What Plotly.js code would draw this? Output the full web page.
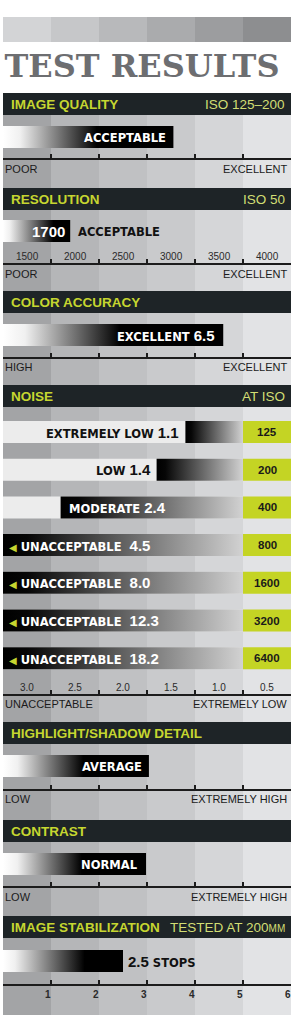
<!DOCTYPE html>
<html><head><meta charset="utf-8">
<script src="https://cdn.plot.ly/plotly-3.0.1.min.js"></script>
<style>html,body{margin:0;padding:0;background:#fff}</style>
</head><body><div id="chart" style="width:292px;height:1024px"></div>
<script>
// ---------------- data ----------------
const chartTitle = "TEST RESULTS";
const sectionTitles = ["IMAGE QUALITY","RESOLUTION","COLOR ACCURACY","NOISE","HIGHLIGHT/SHADOW DETAIL","CONTRAST","IMAGE STABILIZATION"];
const sectionNotes = ["ISO 125–200","ISO 50","","AT ISO","","","TESTED AT 200<span style=\"font-size:10px\">MM</span>"];

const qualityScore = 3.55;            // position on a 0–6 rating scale
const qualityRating = "ACCEPTABLE";
const qualityScale = ["POOR","EXCELLENT"];

const resolutionValue = 1700;
const resolutionRating = "ACCEPTABLE";
const resolutionTicks = [1500,2000,2500,3000,3500,4000];
const resolutionScale = ["POOR","EXCELLENT"];

const colorValue = 6.5;
const colorRating = "EXCELLENT";
const colorScale = ["HIGH","EXCELLENT"];

const noiseIso = ["125","200","400","800","1600","3200","6400"];
const noiseValues = [1.1,1.4,2.4,4.5,8.0,12.3,18.2];
const noiseRatings = ["EXTREMELY LOW","LOW","MODERATE","UNACCEPTABLE","UNACCEPTABLE","UNACCEPTABLE","UNACCEPTABLE"];
const noiseTicks = [3.0,2.5,2.0,1.5,1.0,0.5];
const noiseScale = ["UNACCEPTABLE","EXTREMELY LOW"];

const highlightScore = 3.04;
const highlightRating = "AVERAGE";
const highlightScale = ["LOW","EXTREMELY HIGH"];

const contrastScore = 2.98;
const contrastRating = "NORMAL";
const contrastScale = ["LOW","EXTREMELY HIGH"];

const stabilizationStops = 2.5;
const stabilizationUnit = "STOPS";
const stabilizationTicks = [1,2,3,4,5,6];

// ---------------- style / layout constants ----------------
const W=292, H=1024, PX0=3, PX1=291;
const dom=[PX0/W, PX1/W];
const P = y => 1 - y/H;
const GREEN='#c6d630', GREEN_LIGHT='#d2de74', DARK='#1e2427', BOX='#c4d424';
const FN="DejaVu Sans Condensed, sans-serif";
const FS="Liberation Sans, Arial, sans-serif";
const FSLAB="DejaVu Serif, serif";
const swatch=['#d3d4d6','#c6c7c9','#b8b9bb','#aaabad','#9c9d9f','#8d8e90'];
const cols=['#a3a4a6','#b5b6b8','#c0c1c3','#c9cacc','#d5d6d8','#e2e3e5'];

const headerTop=[93,188,291,385,722,820,916], headerH=22, barH=22;
const axisY=[158,263,357,694,789,886,984];
const scaleLabelY=[169,274,367,704,799,897];
const barTop={quality:126,resolution:220,color:324,highlight:755,contrast:853,stab:950};
const tickLabelY={resolution:256,noise:687,stab:994};
const noiseTop0=421, noiseStep=37.7;
const bgTop=93, bgBottom=1015;
const axisRanges=[[0,6],[1000,4000],[0,8.5],[3,0],[0,6],[0,6],[0,6]];

const num = t => `<span style="font-family:Liberation Sans;font-size:15px">${t}</span>`;

// ---------------- layout ----------------
const layout={
  width:W, height:H, margin:{l:0,r:0,t:0,b:0,pad:0},
  paper_bgcolor:'#ffffff', plot_bgcolor:'rgba(0,0,0,0)', showlegend:false,
  title:{text:chartTitle, xref:'paper', yref:'paper', x:142/W, xanchor:'center', y:P(66), yanchor:'middle',
         font:{family:FSLAB, size:32, color:'#6d6e71', weight:'bold'}},
  yaxis:{domain:[0,1], range:[H,0], visible:false, fixedrange:true},
  shapes:[], annotations:[]
};
const axNames=['x','x2','x3','x4','x5','x6','x7'];
axNames.forEach((a,i)=>{
  const r=axisRanges[i];
  const tv=[0,1,2,3,4,5,6].map(k=>r[0]+k*(r[1]-r[0])/6);
  const ax={domain:dom, range:r, anchor:'free', position:P(axisY[i]),
    showline:true, linecolor:'#1c1c1c', linewidth:1.5, ticks:'inside', ticklen:4, tickwidth:1.3, tickcolor:'#1c1c1c',
    tickvals:tv, showticklabels:false, showgrid:false, zeroline:false, fixedrange:true};
  if(i>0) ax.overlaying='x';
  layout[i? 'xaxis'+(i+1):'xaxis']=ax;
});

const S=layout.shapes, A=layout.annotations;
function rect(xref,x0,x1,y0,y1,color){S.push({type:'rect',layer:'below',xref,yref:'y',x0,x1,y0,y1,fillcolor:color,line:{width:0}});}
function ann(o){A.push(Object.assign({showarrow:false,xref:'paper',yref:'y',borderpad:0,yanchor:'middle'},o));}

swatch.forEach((c,k)=>rect('x',k,k+1,17,42,c));
cols.forEach((c,k)=>rect('x',k,k+1,bgTop,bgBottom,c));
headerTop.forEach((t,i)=>{
  rect('x',0,6,t,t+headerH,DARK);
  ann({x:10/W,xanchor:'left',y:t+headerH/2+0.5,text:sectionTitles[i],font:{family:FS,size:13.5,color:GREEN,weight:'bold'}});
  if(sectionNotes[i]) ann({x:286/W,xanchor:'right',y:t+headerH/2+0.5,text:sectionNotes[i],font:{family:FS,size:13.5,color:GREEN_LIGHT}});
});
// scale end labels
[qualityScale,resolutionScale,colorScale,noiseScale,highlightScale,contrastScale].forEach((s,i)=>{
  const f={family:FS,size:11,color:'#1b1b1b'};
  ann({x:4/W,xanchor:'left',y:scaleLabelY[i],text:s[0],font:f});
  ann({x:288/W,xanchor:'right',y:scaleLabelY[i],text:s[1],font:f});
});

// ---------------- traces ----------------
const traces=[];
function gradBar(xa,x0,x1,top,cs,gs,ge){
  traces.push({type:'scatter',xaxis:xa,yaxis:'y',x:[x0,x1,x1,x0,x0],y:[top,top,top+barH,top+barH,top],
    fill:'toself',mode:'lines',line:{width:0},hoverinfo:'skip',
    fillgradient:{type:'horizontal',start:gs,stop:ge,colorscale:cs}});
}
const ratingCS=f=>[[0,'#ffffff'],[0.1,'#f0f0f0'],[f,'#000000'],[1,'#000000']];
const white={family:FN,size:12.8,color:'#ffffff',weight:'bold'};
const black={family:FN,size:12.8,color:'#111111',weight:'bold'};

// image quality
gradBar('x',0,qualityScore,barTop.quality,ratingCS(0.55),0,qualityScore);
ann({xref:'x',x:qualityScore,xanchor:'right',xshift:-6,y:barTop.quality+barH/2,text:qualityRating,font:white});

// resolution
gradBar('x2',axisRanges[1][0],resolutionValue,barTop.resolution,ratingCS(0.75),axisRanges[1][0],resolutionValue);
ann({xref:'x2',x:resolutionValue,xanchor:'right',xshift:-4,y:barTop.resolution+barH/2,text:num(resolutionValue),font:white});
ann({xref:'x2',x:resolutionValue,xanchor:'left',xshift:7,y:barTop.resolution+barH/2,text:resolutionRating,font:black});
resolutionTicks.forEach(t=>ann({xref:'x2',x:t-250,xanchor:'center',y:tickLabelY.resolution,text:String(t),font:{family:FS,size:10,color:'#2a2a2a'}}));

// color accuracy
gradBar('x3',0,colorValue,barTop.color,ratingCS(0.53),0,colorValue);
ann({xref:'x3',x:colorValue,xanchor:'right',xshift:-7,y:barTop.color+barH/2,text:colorRating+' '+num(colorValue.toFixed(1)),font:white});

// noise
noiseValues.forEach((v,i)=>{
  const top=noiseTop0+i*noiseStep;
  const start=Math.min(v,axisRanges[3][0]);
  rect('x4',axisRanges[3][0],0.5,top,top+barH,'#ececec');
  rect('x4',0.5,axisRanges[3][1],top,top+barH,BOX);
  gradBar('x4',start,0.5,top,[[0,'#000000'],[0.1,'#060606'],[1,'#d2d2d2']],start,0.5);
  ann({xref:'x4',x:0.25,xanchor:'center',y:top+barH/2,text:noiseIso[i],font:{family:FS,size:11.5,color:'#1a1a1a',weight:'bold'}});
  const vt=num(v.toFixed(1));
  if(v<=1.5) ann({xref:'x4',x:v,xanchor:'right',xshift:-5,y:top+barH/2,text:noiseRatings[i]+' '+vt,font:black});
  else if(v<=axisRanges[3][0]) ann({xref:'x4',x:v,xanchor:'left',xshift:7,y:top+barH/2,text:noiseRatings[i]+' '+vt,font:white});
  else ann({xref:'x4',x:axisRanges[3][0],xanchor:'left',xshift:5,y:top+barH/2,
    text:`<span style="color:${GREEN};font-family:DejaVu Sans;font-size:10px">◀</span> ${noiseRatings[i]}\u00a0\u00a0${vt}`,font:white});
});
noiseTicks.forEach(t=>ann({xref:'x4',x:t-0.25,xanchor:'center',y:tickLabelY.noise,text:t.toFixed(1),font:{family:FS,size:10,color:'#2a2a2a'}}));

// highlight / shadow
gradBar('x5',0,highlightScore,barTop.highlight,ratingCS(0.55),0,highlightScore);
ann({xref:'x5',x:highlightScore,xanchor:'right',xshift:-6,y:barTop.highlight+barH/2,text:highlightRating,font:white});

// contrast
gradBar('x6',0,contrastScore,barTop.contrast,ratingCS(0.55),0,contrastScore);
ann({xref:'x6',x:contrastScore,xanchor:'right',xshift:-7,y:barTop.contrast+barH/2,text:contrastRating,font:white});

// stabilization
gradBar('x7',0,stabilizationStops,barTop.stab,ratingCS(0.68),0,stabilizationStops);
ann({xref:'x7',x:stabilizationStops,xanchor:'left',xshift:4,y:barTop.stab+barH/2,text:num(stabilizationStops.toFixed(1))+' '+stabilizationUnit,font:black});
stabilizationTicks.forEach(t=>ann({xref:'x7',x:t,xanchor:'center',xshift:-3,y:tickLabelY.stab,text:String(t),font:{family:FS,size:10,color:'#2a2a2a',weight:'bold'}}));

Plotly.newPlot('chart',traces,layout,{staticPlot:true,displayModeBar:false});
</script></body></html>
